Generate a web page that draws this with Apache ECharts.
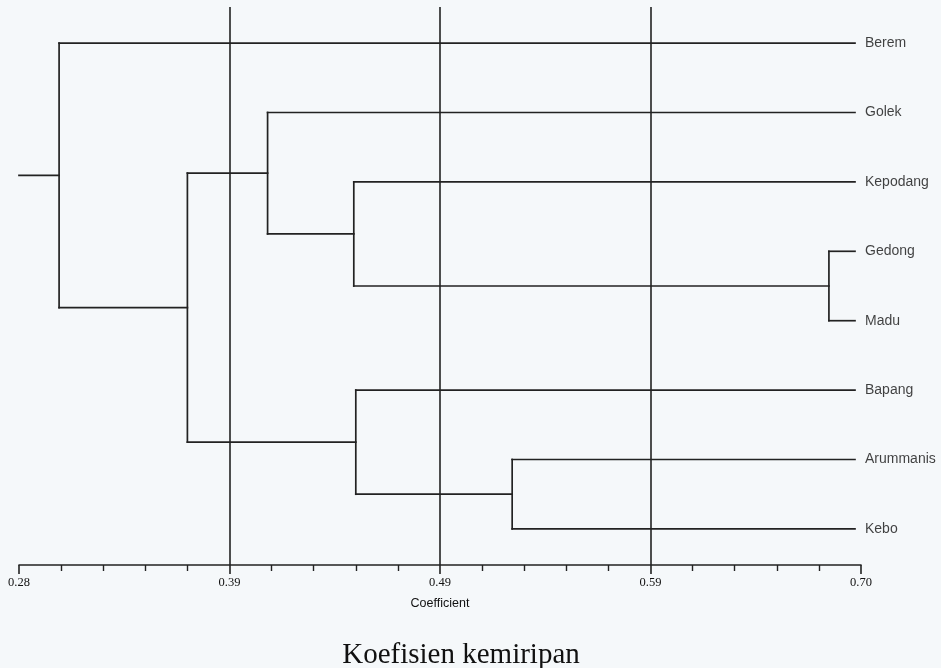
<!DOCTYPE html>
<html>
<head>
<meta charset="utf-8">
<script src="https://cdn.jsdelivr.net/npm/echarts@6/dist/echarts.min.js"></script>
<style>
  html, body { margin: 0; padding: 0; background: #f5f8fa; }
  #chart { width: 941px; height: 668px; }
</style>
</head>
<body>
<div id="chart"></div>
<script>
// ---- data ----
var leaves = ['Berem', 'Golek', 'Kepodang', 'Gedong', 'Madu', 'Bapang', 'Arummanis', 'Kebo'];
// linkage: node ids 0..7 are leaves, merge k creates node 8+k
var mergeLeft  = [3, 6, 2, 5, 1, 12, 0];
var mergeRight = [4, 7, 8, 9, 10, 11, 13];
var mergeCoef  = [0.684, 0.526, 0.447, 0.448, 0.404, 0.364, 0.300];
var leafCoef = 0.697;
var axisMin = 0.28, axisMax = 0.70, axisStep = 0.105;
var tickLabels = ['0.28', '0.39', '0.49', '0.59', '0.70'];

// ---- build dendrogram segments from the linkage ----
var nodeX = [], nodeY = [];
leaves.forEach(function (name, i) { nodeX[i] = leafCoef; nodeY[i] = i; });
var segments = [];
mergeCoef.forEach(function (c, k) {
  var a = mergeLeft[k], b = mergeRight[k], id = leaves.length + k;
  segments.push([nodeX[a], nodeY[a], c, nodeY[a]]);
  segments.push([nodeX[b], nodeY[b], c, nodeY[b]]);
  segments.push([c, nodeY[a], c, nodeY[b]]);
  nodeX[id] = c;
  nodeY[id] = (nodeY[a] + nodeY[b]) / 2;
});
var rootId = leaves.length + mergeCoef.length - 1;
segments.push([axisMin, nodeY[rootId], nodeX[rootId], nodeY[rootId]]);

var lineColor = '#222222';
var textColor = '#111111';
var chart = echarts.init(document.getElementById('chart'));
chart.setOption({
  backgroundColor: '#f5f8fa',
  animation: false,
  title: {
    text: 'Koefisien kemiripan',
    left: 456, top: 636, textAlign: 'center',
    textStyle: { fontFamily: 'Liberation Serif', fontSize: 29, fontWeight: 'normal', color: textColor }
  },
  grid: { left: 19, right: 80, top: 7, bottom: 103 },
  xAxis: {
    type: 'value', min: axisMin, max: axisMax, interval: axisStep,
    name: 'Coefficient', nameLocation: 'middle', nameGap: 32,
    nameTextStyle: { fontFamily: 'Liberation Sans', fontSize: 12.5, color: textColor },
    axisLine: { show: true, onZero: false, lineStyle: { color: lineColor, width: 1.6 } },
    axisTick: { show: true, length: 9, lineStyle: { color: lineColor, width: 1.6 } },
    minorTick: { show: true, splitNumber: 5, length: 6, lineStyle: { color: lineColor, width: 1.4 } },
    splitLine: { show: true, showMinLine: false, showMaxLine: false, lineStyle: { color: lineColor, width: 1.6 } },
    axisLabel: {
      margin: 11, fontFamily: 'Liberation Serif', fontSize: 12.5, color: textColor,
      formatter: function (v) { return tickLabels[Math.round((v - axisMin) / axisStep)]; }
    }
  },
  yAxis: { type: 'value', inverse: true, min: -0.52, max: 7.52, show: false },
  series: [
    {
      type: 'custom',
      data: segments,
      renderItem: function (params, api) {
        var p1 = api.coord([api.value(0), api.value(1)]);
        var p2 = api.coord([api.value(2), api.value(3)]);
        return {
          type: 'line',
          shape: { x1: p1[0], y1: p1[1], x2: p2[0], y2: p2[1] },
          style: { stroke: lineColor, lineWidth: 1.7, lineCap: 'square' }
        };
      },
      z: 3
    },
    {
      type: 'scatter',
      symbolSize: 0,
      data: leaves.map(function (n, i) { return { name: n, value: [leafCoef, i] }; }),
      label: {
        show: true, position: 'right', distance: 10,
        formatter: '{b}',
        fontFamily: 'Liberation Sans', fontSize: 14, color: textColor
      },
      emphasis: { disabled: true },
      z: 4
    }
  ]
});
</script>
</body>
</html>
